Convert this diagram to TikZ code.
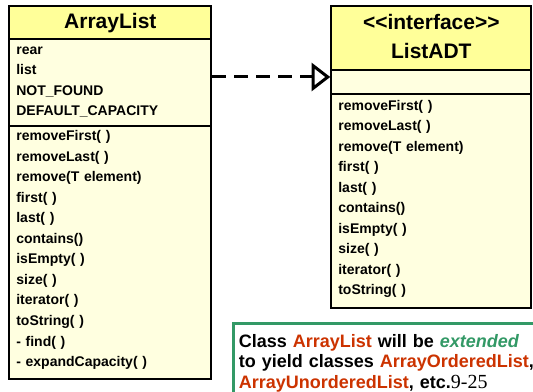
\documentclass[tikz,border=0pt]{standalone}
\usepackage{fontspec}
\setmainfont{Liberation Sans}
\newfontfamily\timesfont{Liberation Serif}
\usetikzlibrary{matrix,arrows.meta}

\definecolor{headyellow}{HTML}{FFFF99}
\definecolor{bodyyellow}{HTML}{FFFFE0}
\definecolor{rust}{HTML}{CC3300}
\definecolor{notegreen}{HTML}{339966}

\begin{document}
\begin{tikzpicture}[x=0.75pt, y=-0.75pt,
    head/.style={fill=headyellow, align=center, font=\fontsize{15.75}{21.75}\selectfont\bfseries},
    body/.style={fill=bodyyellow, align=left, font=\fontsize{10.5}{15.4}\selectfont\bfseries},
    note/.style={draw=notegreen, line width=2.25pt, fill=white, text width=225pt, inner xsep=4pt, inner ysep=8pt, align=left, font=\fontsize{13.5}{15.4}\selectfont\bfseries}]
    \useasboundingbox (0,0) rectangle (533,392);
    \matrix[matrix of nodes, anchor=north west, inner sep=0pt, nodes={draw, line width=1.6pt, text width=141pt, inner xsep=5.25pt, anchor=center}, row sep=-1.6pt] (arr) at (8,5) {
      |[head, minimum height=24.75pt]| ArrayList \\
      |[body, minimum height=65.25pt]| \begin{tabular}{@{}l@{}}rear\\ list\\ NOT\_FOUND\\ DEFAULT\_CAPACITY\\[3pt]\end{tabular} \\
      |[body, minimum height=189.75pt]| \begin{tabular}{@{}l@{}}removeFirst( )\\ removeLast( )\\ remove(T element)\\ first( )\\ last( )\\ contains()\\ isEmpty( )\\ size( )\\ iterator( )\\ toString( )\\ - find( )\\ - expandCapacity( )\\[5pt]\end{tabular} \\
    };
    \matrix[matrix of nodes, anchor=north west, inner sep=0pt, nodes={draw, line width=1.6pt, text width=139.5pt, inner xsep=5.25pt, anchor=center}, row sep=-1.6pt] (adt) at (330,5) {
      |[head, minimum height=48pt]| \begin{tabular}{@{}c@{}}<{}<interface>{}>\\ ListADT\end{tabular} \\
      |[body, minimum height=18pt]| ~ \\
      |[body, minimum height=160.5pt]| \begin{tabular}{@{}l@{}}removeFirst( )\\ removeLast( )\\ remove(T element)\\ first( )\\ last( )\\ contains()\\ isEmpty( )\\ size( )\\ iterator( )\\ toString( )\\[4.5pt]\end{tabular} \\
    };
    \coordinate (tip) at ([yshift=4pt]adt-2-1.west);
    \draw[line width=2.25pt, dash pattern=on 10.5pt off 6pt, -{Triangle[open, length=14pt, width=21pt]}] (arr-2-1.east |- tip) -- (tip);
    \node[note, anchor=north west] (remark) at (232,322) {Class \textcolor{rust}{ArrayList} will be \textcolor{notegreen}{\itshape extended}\\
      to yield classes \textcolor{rust}{ArrayOrderedList},\\
      \textcolor{rust}{ArrayUnorderedList}, etc.{\timesfont\mdseries\fontsize{15}{15}\selectfont 9-25}};
\end{tikzpicture}
\end{document}
